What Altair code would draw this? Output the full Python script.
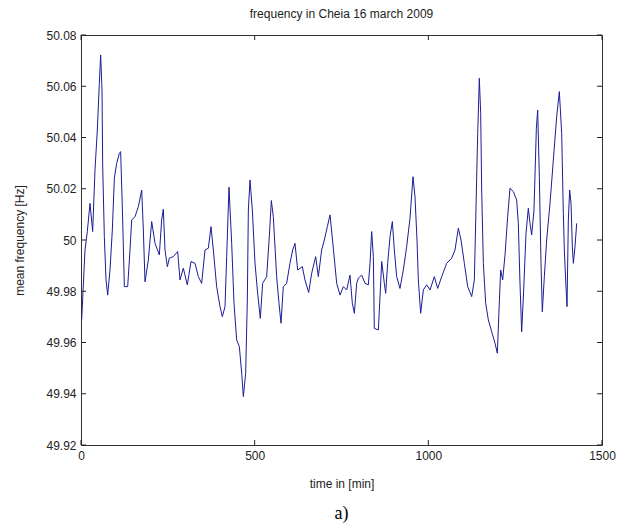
import altair as alt
import pandas as pd

time_min = [2, 11.5, 18.2, 25.9, 33.6, 40.3, 47.0, 52.8, 56.6, 60.5, 62.4, 67.2, 72.0, 76.8,
            83.5, 90.2, 96.0, 102.7, 110.4, 114.2, 120.0, 124.8, 134.4, 141.1, 145.9, 155.5,
            165.1, 174.7, 179.5, 184.3, 193.9, 203.5, 213.1, 225.5, 232.2, 237.0, 241.8, 248.6,
            254.3, 265.8, 278.3, 285.0, 294.6, 306.1, 316.7, 328.2, 337.8, 347.4, 357.0, 366.6,
            374.3, 381.0, 390.6, 400.2, 406.9, 414.6, 419.4, 426.1, 433.8, 440.5, 448.2, 455.9,
            462.6, 467.4, 474.1, 478.9, 481.8, 486.6, 493.3, 501.0, 508.6, 516.3, 523.0, 534.5,
            542.2, 548.0, 553.7, 563.3, 570.1, 575.8, 582.5, 592.1, 601.7, 609.4, 616.1, 623.8,
            637.2, 644.9, 655.5, 664.1, 675.6, 683.3, 692.9, 700.6, 709.2, 716.9, 726.5, 736.1,
            745.7, 755.3, 764.9, 774.5, 781.2, 787.0, 793.7, 798.5, 808.1, 817.7, 827.3, 832.1,
            836.9, 841.7, 844.5, 856.1, 860.9, 865.7, 873.3, 877.2, 882.9, 889.7, 896.4, 902.1,
            908.8, 918.4, 928.0, 937.6, 947.2, 955.9, 961.6, 967.4, 971.2, 977.9, 985.6, 995.2,
            1004.8, 1017.3, 1026.9, 1038.4, 1052.8, 1067.2, 1076.8, 1086.4, 1094.1, 1103.7,
            1113.3, 1124.8, 1132.5, 1137.3, 1142.1, 1146.8, 1150.7, 1153.6, 1158.4, 1165.1,
            1172.8, 1182.4, 1192.0, 1198.7, 1203.5, 1208.3, 1214.0, 1220.8, 1228.4, 1235.1,
            1244.8, 1254.3, 1259.1, 1263.9, 1268.7, 1274.5, 1281.2, 1287.9, 1292.7, 1297.5,
            1304.2, 1311.0, 1314.8, 1319.6, 1324.4, 1328.2, 1334.0, 1340.7, 1350.3, 1359.9,
            1369.5, 1377.2, 1383.9, 1388.7, 1391.6, 1395.4, 1399.3, 1403.1, 1406.9, 1410.8,
            1414.6, 1417.5, 1422.3, 1427.1]

freq_hz = [49.969, 49.9961, 50.0033, 50.0143, 50.0033, 50.0273, 50.0429, 50.0611, 50.0722,
           50.0585, 50.0293, 50.0013, 49.9844, 49.9785, 49.9883, 50.0039, 50.0241, 50.0299,
           50.0338, 50.0345, 50.0078, 49.9818, 49.9818, 49.9961, 50.0078, 50.0091, 50.0130,
           50.0195, 50.0039, 49.9837, 49.9922, 50.0072, 49.9987, 49.9942, 50.0078, 50.0120,
           49.9961, 49.9896, 49.9929, 49.9935, 49.9955, 49.9844, 49.9890, 49.9825, 49.9916,
           49.9909, 49.9857, 49.9831, 49.9961, 49.9968, 50.0052, 49.9961, 49.9818, 49.9740,
           49.9701, 49.9740, 49.9935, 50.0206, 49.9987, 49.9753, 49.9610, 49.9584, 49.9480,
           49.9389, 49.9480, 49.9766, 50.0117, 50.0234, 50.0117, 49.9909, 49.9792, 49.9694,
           49.9831, 49.9857, 50.0013, 50.0154, 50.0091, 49.9857, 49.9753, 49.9675, 49.9818,
           49.9831, 49.9909, 49.9961, 49.9987, 49.9883, 49.9896, 49.9844, 49.9795, 49.9870,
           49.9935, 49.9857, 49.9961, 50.0000, 50.0052, 50.0098, 49.9968, 49.9831,
           49.9785, 49.9818, 49.9805, 49.9863, 49.9753, 49.9714, 49.9831, 49.9851, 49.9863,
           49.9831, 49.9825, 49.9909, 50.0033, 49.9935, 49.9655, 49.9649, 49.9779, 49.9916,
           49.9831, 49.9792, 49.9909, 50.0013, 50.0072, 49.9961, 49.9857, 49.9811, 49.9883,
           49.9974, 50.0085, 50.0247, 50.0169, 50.0000, 49.9844, 49.9714, 49.9805, 49.9825,
           49.9805, 49.9857, 49.9811, 49.9857, 49.9909, 49.9929, 49.9961, 50.0046, 50.0000,
           49.9909, 49.9818, 49.9779, 49.9844, 50.0130, 50.0416, 50.0631, 50.0494, 50.0195,
           49.9909, 49.9753, 49.9688, 49.9642, 49.9597, 49.9558, 49.9727, 49.9883, 49.9844,
           49.9942, 50.0091, 50.0202, 50.0189, 50.0156, 50.0065, 49.9831, 49.9642, 49.9805,
           50.0026, 50.0124, 50.0065, 50.0020, 50.0117, 50.0436, 50.0507, 50.0247, 49.9909,
           49.9720, 49.9857, 50.0000, 50.0143, 50.0312, 50.0481, 50.0579, 50.0416, 50.0104,
           49.9961, 49.9844, 49.9740, 50.0078, 50.0195, 50.0143, 49.9974, 49.9909, 49.9974,
           50.0065]

x_ticks = [0, 500, 1000, 1500]
y_ticks = [49.92, 49.94, 49.96, 49.98, 50.00, 50.02, 50.04, 50.06, 50.08]

title_text = "frequency in Cheia 16 march 2009"
x_title = "time in [min]"
y_title = "mean frequency [Hz]"
caption = ["a)"]

W, H = 521, 410
FONT = "Liberation Sans"

df = pd.DataFrame({"t": time_min, "f": freq_hz})
dxt = pd.DataFrame({"t": x_ticks})
dyt = pd.DataFrame({"f": y_ticks})
dcap = pd.DataFrame({"c": caption})

xs = alt.Scale(domain=[0, 1500], nice=False, zero=False)
ys = alt.Scale(domain=[49.92, 50.08], nice=False, zero=False)

x_axis = alt.Axis(values=x_ticks, ticks=False, domain=False, grid=False,
                  labelFont=FONT, labelFontSize=12, labelPadding=5,
                  labelColor="#222", titleFont=FONT, titleFontSize=12,
                  titleFontWeight="normal", titleColor="#222", titlePadding=17,
                  labelFlush=False, format="d")
y_axis = alt.Axis(values=y_ticks, ticks=False, domain=False, grid=False,
                  labelFont=FONT, labelFontSize=12, labelPadding=5,
                  labelColor="#222", titleFont=FONT, titleFontSize=12,
                  titleFontWeight="normal", titleColor="#222", titlePadding=19,
                  labelFlush=False,
                  labelExpr="abs(datum.value - 50) < 1e-9 ? '50' : format(datum.value, '.2f')")

X = alt.X("t:Q", scale=xs, title=x_title, axis=x_axis)
Y = alt.Y("f:Q", scale=ys, title=y_title, axis=y_axis)

line = alt.Chart(df).mark_line(color="#1c1c96", strokeWidth=1).encode(x=X, y=Y)

tick_col = "#222"
xb = alt.Chart(dxt).mark_rule(color=tick_col, strokeWidth=1).encode(
    x=X, y=alt.value(H), y2=alt.value(H - 5))
xt = alt.Chart(dxt).mark_rule(color=tick_col, strokeWidth=1).encode(
    x=X, y=alt.value(0), y2=alt.value(5))
yl = alt.Chart(dyt).mark_rule(color=tick_col, strokeWidth=1).encode(
    y=Y, x=alt.value(0), x2=alt.value(5))
yr = alt.Chart(dyt).mark_rule(color=tick_col, strokeWidth=1).encode(
    y=Y, x=alt.value(W), x2=alt.value(W - 5))

cap = alt.Chart(dcap).mark_text(font="Liberation Serif", fontSize=18, color="#000").encode(
    text="c:N", x=alt.value(W / 2), y=alt.value(H + 69))

chart = alt.layer(line, xb, xt, yl, yr, cap).properties(
    width=W, height=H,
    title=alt.TitleParams(title_text, font=FONT, fontSize=12, fontWeight="normal",
                          color="#222", anchor="middle", offset=8),
    autosize=alt.AutoSizeParams(type="none"),
    padding={"left": 81, "top": 35, "right": 24, "bottom": 86},
    background="white",
).configure_view(stroke="#333", strokeWidth=1)

chart.save("out.html", embed_options={"renderer": "svg", "actions": False})
